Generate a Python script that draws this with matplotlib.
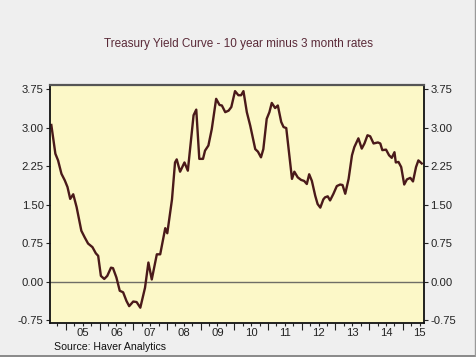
import numpy as np
import matplotlib
matplotlib.use("Agg")
import matplotlib.pyplot as plt
from matplotlib.lines import Line2D

plt.rcParams["font.family"] = ["Liberation Sans", "DejaVu Sans"]

# decimal year, spread (10y minus 3m)
dates = [2004.57, 2004.69, 2004.77, 2004.87, 2004.97, 2005.05, 2005.13, 2005.22,
         2005.32, 2005.46, 2005.56, 2005.66, 2005.79, 2005.89, 2005.96, 2006.04,
         2006.14, 2006.23, 2006.34, 2006.40, 2006.50, 2006.60, 2006.70, 2006.80,
         2006.88, 2007.00, 2007.10, 2007.21, 2007.35, 2007.45, 2007.55, 2007.70,
         2007.80, 2007.95, 2008.01, 2008.15, 2008.24, 2008.29, 2008.39, 2008.52,
         2008.62, 2008.79, 2008.87, 2008.96, 2009.07, 2009.13, 2009.23, 2009.33,
         2009.46, 2009.56, 2009.63, 2009.73, 2009.83, 2009.91, 2010.02, 2010.12,
         2010.20, 2010.27, 2010.37, 2010.47, 2010.62, 2010.70, 2010.79, 2010.86,
         2010.96, 2011.04, 2011.11, 2011.21, 2011.29, 2011.39, 2011.46, 2011.54,
         2011.71, 2011.78, 2011.88, 2011.98, 2012.07, 2012.15, 2012.22, 2012.30,
         2012.40, 2012.47, 2012.55, 2012.64, 2012.69, 2012.77, 2012.84, 2012.94,
         2013.04, 2013.14, 2013.21, 2013.29, 2013.39, 2013.49, 2013.56, 2013.68,
         2013.78, 2013.86, 2013.95, 2014.03, 2014.13, 2014.26, 2014.33, 2014.39,
         2014.50, 2014.59, 2014.67, 2014.75, 2014.79, 2014.87, 2014.95, 2015.04,
         2015.12, 2015.22, 2015.30, 2015.39, 2015.46, 2015.56]
spread = [3.05, 2.49, 2.36, 2.10, 1.97, 1.84, 1.61, 1.70,
          1.45, 0.99, 0.86, 0.74, 0.67, 0.55, 0.50, 0.11,
          0.05, 0.11, 0.27, 0.26, 0.08, -0.18, -0.21, -0.38,
          -0.48, -0.39, -0.40, -0.51, -0.12, 0.37, 0.04, 0.53,
          0.53, 1.04, 0.94, 1.60, 2.32, 2.38, 2.14, 2.32,
          2.16, 3.24, 3.35, 2.39, 2.39, 2.55, 2.65, 2.97,
          3.56, 3.44, 3.43, 3.30, 3.33, 3.40, 3.71, 3.63,
          3.63, 3.71, 3.30, 3.04, 2.58, 2.53, 2.42, 2.58,
          3.17, 3.30, 3.48, 3.38, 3.43, 3.11, 3.01, 2.99,
          2.00, 2.14, 2.03, 1.98, 1.96, 1.90, 2.09, 1.96,
          1.67, 1.51, 1.44, 1.60, 1.64, 1.66, 1.58, 1.71,
          1.86, 1.89, 1.88, 1.71, 2.00, 2.46, 2.62, 2.79,
          2.59, 2.69, 2.85, 2.83, 2.69, 2.71, 2.69, 2.56,
          2.57, 2.46, 2.41, 2.52, 2.32, 2.33, 2.23, 1.89,
          1.99, 2.02, 1.95, 2.23, 2.36, 2.30]

years = list(range(2005, 2016))
year_labels = ["05", "06", "07", "08", "09", "10", "11", "12", "13", "14", "15"]
yticks = [-0.75, 0.0, 0.75, 1.50, 2.25, 3.00, 3.75]

x0, x1 = 2004.53, 2015.63
y0, y1 = -0.81, 3.83

fig = plt.figure(figsize=(4.76, 3.57), dpi=100, facecolor="#efefef")
ax = fig.add_axes([0.105, 0.095, 0.786, 0.667], facecolor="#fcf8c8")

ax.axhline(0, color="#6e6e66", lw=1.0, zorder=1)
ax.plot(dates, spread, color="#4a1a1a", lw=1.7, zorder=2)

ax.set_xlim(x0, x1)
ax.set_ylim(y0, y1)

ax.set_yticks(yticks)
ax.set_yticklabels([f"{v:.2f}" for v in yticks])
ax.tick_params(axis="y", which="both", direction="out", length=3, width=0.8,
               labelsize=8.1, left=True, right=True, labelleft=True, labelright=True,
               colors="#222222", pad=1.5)

# long ticks at year starts, labels centred in each year, short quarterly ticks
ax.set_xticks(years)
ax.set_xticklabels([])
ax.set_xticks([y + 0.5 for y in years], minor=True)
ax.set_xticklabels(year_labels, minor=True)
ax.tick_params(axis="x", which="major", direction="out", length=5, width=0.8, colors="#222222")
ax.tick_params(axis="x", which="minor", length=0, labelsize=8.1, pad=3.5, colors="#222222")
quarters = [y + q / 4 for y in range(2004, 2016) for q in (1, 2, 3)]
ax.vlines([q for q in quarters if x0 < q < x1], y0 - 0.06, y0,
          colors="#222222", lw=0.8, clip_on=False)

for side in ["left", "right", "bottom"]:
    ax.spines[side].set_color("#111111")
    ax.spines[side].set_linewidth(1.3)
ax.spines["top"].set_color("#555555")
ax.spines["top"].set_linewidth(1.6)

fig.text(0.5, 0.877, "Treasury Yield Curve - 10 year minus 3 month rates",
         ha="center", va="center", fontsize=8.5, color="#5a2a38")
fig.text(0.114, 0.029, "Source: Haver Analytics", ha="left", va="center",
         fontsize=7.6, color="#111111")

# thin frame shadow on right and bottom edges
fig.add_artist(Line2D([0, 1], [0.004, 0.004], color="#777777", lw=1.2, transform=fig.transFigure))
fig.add_artist(Line2D([0.997, 0.997], [0, 1], color="#999999", lw=1.0, transform=fig.transFigure))

fig.savefig("out.png", dpi=100, facecolor=fig.get_facecolor())
